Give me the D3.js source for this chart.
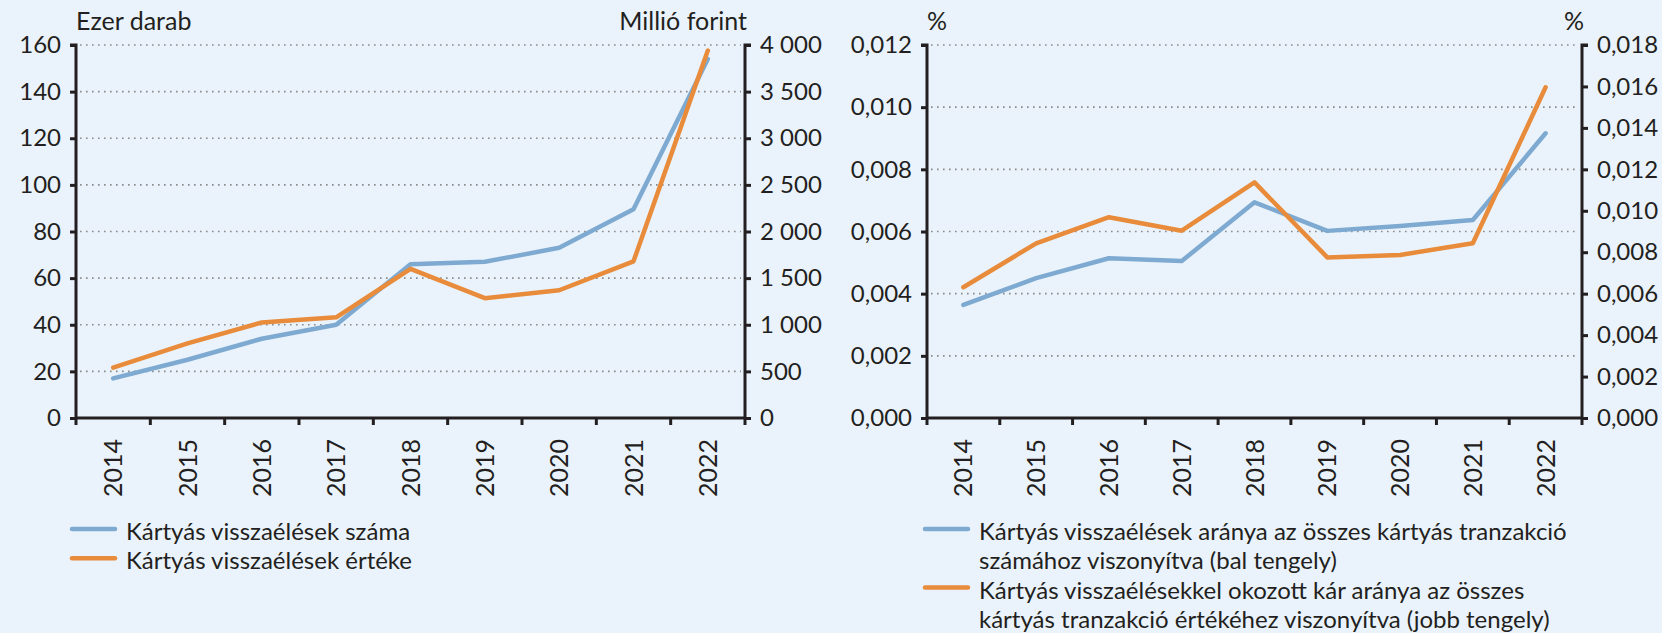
<!DOCTYPE html>
<html>
<head>
<meta charset="utf-8">
<script src="https://cdn.jsdelivr.net/npm/d3@7"></script>
<style>
	body { margin: 0; background: #eaf3fb; }
	svg { display: block; font-family: Lato, 'Noto Sans', sans-serif; }
	.tick text { fill: #231f20; }
</style>
</head>
<body>
<svg id="chart" width="1662" height="633"></svg>
<script>
// data
const years = ['2014', '2015', '2016', '2017', '2018', '2019', '2020', '2021', '2022']

// left panel
const fraudCount = [17, 25, 34, 40, 66, 67, 73, 89.5, 154]            // ezer darab
const fraudValue = [540, 800, 1025, 1080, 1600, 1285, 1370, 1680, 3940] // millió forint

// right panel
const countShare = [0.00364, 0.0045, 0.00514, 0.00505, 0.00694, 0.00602, 0.00618, 0.00637, 0.00916]
const valueShare = [0.00631, 0.00843, 0.00969, 0.00904, 0.01137, 0.00775, 0.00787, 0.00843, 0.01596]

const leftTicks = [0, 20, 40, 60, 80, 100, 120, 140, 160]
const rightTicksA = [0, 500, 1000, 1500, 2000, 2500, 3000, 3500, 4000]
const pctTicksL = [0, 0.002, 0.004, 0.006, 0.008, 0.010, 0.012]
const pctTicksR = [0, 0.002, 0.004, 0.006, 0.008, 0.010, 0.012, 0.014, 0.016, 0.018]

const legendLeft = [['Kártyás visszaélések száma'], ['Kártyás visszaélések értéke']]
const legendRight = [
	['Kártyás visszaélések aránya az összes kártyás tranzakció', 'számához viszonyítva (bal tengely)'],
	['Kártyás visszaélésekkel okozott kár aránya az összes', 'kártyás tranzakció értékéhez viszonyítva (jobb tengely)']
]

const BLUE = '#7eaad1', ORANGE = '#e88b3b', INK = '#231f20'
const FS = 24

const svg = d3.select('#chart')

const huNum = d3.formatLocale({decimal: ',', thousands: '\u00a0', grouping: [3], currency: ['', '']})
const fmtThousands = huNum.format(',.0f')
const fmtPct = huNum.format('.3f')

function panel(opt) {
	const g = svg.append('g')
	const x = d3.scaleBand().domain(years).range([opt.x0, opt.x1])
	const yL = d3.scaleLinear().domain(opt.domL).range([418, 45])
	const yR = d3.scaleLinear().domain(opt.domR).range([418, 45])

	// dotted grid
	g.append('g').selectAll('line')
		.data(opt.ticksL.slice(1))
		.enter().append('line')
		.attr('x1', opt.x0 + 4).attr('x2', opt.x1 - 4)
		.attr('y1', d => yL(d)).attr('y2', d => yL(d))
		.attr('stroke', '#8a8a8a')
		.attr('stroke-width', 1.6)
		.attr('stroke-dasharray', '1.6,4.4')

	const axL = g.append('g')
		.attr('transform', `translate(${opt.x0},0)`)
		.call(d3.axisLeft(yL).tickValues(opt.ticksL).tickFormat(opt.fmtL).tickSize(6).tickPadding(9))
	const axR = g.append('g')
		.attr('transform', `translate(${opt.x1},0)`)
		.call(d3.axisRight(yR).tickValues(opt.ticksR).tickFormat(opt.fmtR).tickSize(6).tickPadding(9))
	const axB = g.append('g')
		.attr('transform', 'translate(0,418)')
		.call(d3.axisBottom(x).tickSize(0).tickFormat(d => d))

	// category tick marks on band edges
	g.append('g').selectAll('line')
		.data(d3.range(years.length + 1))
		.enter().append('line')
		.attr('x1', i => opt.x0 + i * x.step()).attr('x2', i => opt.x0 + i * x.step())
		.attr('y1', 418).attr('y2', 425)
		.attr('stroke', INK).attr('stroke-width', 3)

	axB.selectAll('.tick text')
		.attr('transform', 'rotate(-90)')
		.attr('text-anchor', 'end')
		.attr('x', -21).attr('y', 0).attr('dy', '0.36em')

	for (const ax of [axL, axR, axB]) {
		ax.selectAll('.domain').attr('stroke', INK).attr('stroke-width', 3)
		ax.selectAll('.tick line').attr('stroke', INK).attr('stroke-width', 3)
		ax.selectAll('text').attr('font-size', FS).attr('font-family', 'Lato')
	}
	axB.selectAll('text').attr('font-size', FS + 1)
	axL.select('.domain').attr('d', `M-6,45H0V418`)
	axR.select('.domain').attr('d', `M6,45H0V418`)
	axB.select('.domain').attr('d', `M${opt.x0},0H${opt.x1}`)

	const lineL = d3.line().x((d, i) => x(years[i]) + x.bandwidth() / 2).y(d => yL(d))
	const lineR = d3.line().x((d, i) => x(years[i]) + x.bandwidth() / 2).y(d => yR(d))

	g.append('path').datum(opt.seriesL)
		.attr('d', lineL).attr('fill', 'none')
		.attr('stroke', BLUE).attr('stroke-width', 4.5)
		.attr('stroke-linejoin', 'round').attr('stroke-linecap', 'round')
	g.append('path').datum(opt.seriesR)
		.attr('d', lineR).attr('fill', 'none')
		.attr('stroke', ORANGE).attr('stroke-width', 4.5)
		.attr('stroke-linejoin', 'round').attr('stroke-linecap', 'round')

	// unit titles
	g.append('text').attr('x', opt.x0).attr('y', 30)
		.attr('font-size', FS + 1).attr('fill', INK).text(opt.titleL)
	g.append('text').attr('x', opt.x1 + 2).attr('y', 30)
		.attr('text-anchor', 'end')
		.attr('font-size', FS + 1).attr('fill', INK).text(opt.titleR)

	// legend
	let row = 0
	opt.legend.forEach((lines, k) => {
		const y0 = 529 + row * 29.3
		g.append('line')
			.attr('x1', opt.legX).attr('x2', opt.legX + 43)
			.attr('y1', y0).attr('y2', y0)
			.attr('stroke', k == 0 ? BLUE : ORANGE)
			.attr('stroke-width', 4.5).attr('stroke-linecap', 'round')
		lines.forEach((t, j) => {
			g.append('text')
				.attr('x', opt.legX + 54).attr('y', y0 + 11 + j * 29.3)
				.attr('font-size', FS).attr('fill', INK).text(t)
		})
		row += lines.length
	})
}

panel({
	x0: 76, x1: 745,
	domL: [0, 160], domR: [0, 4000],
	ticksL: leftTicks, ticksR: rightTicksA,
	fmtL: d => d, fmtR: d => fmtThousands(d),
	seriesL: fraudCount, seriesR: fraudValue,
	titleL: 'Ezer darab', titleR: 'Millió forint',
	legend: legendLeft, legX: 72
})

panel({
	x0: 927, x1: 1582,
	domL: [0, 0.012], domR: [0, 0.018],
	ticksL: pctTicksL, ticksR: pctTicksR,
	fmtL: d => fmtPct(d), fmtR: d => fmtPct(d),
	seriesL: countShare, seriesR: valueShare,
	titleL: '%', titleR: '%',
	legend: legendRight, legX: 925
})
</script>
</body>
</html>
